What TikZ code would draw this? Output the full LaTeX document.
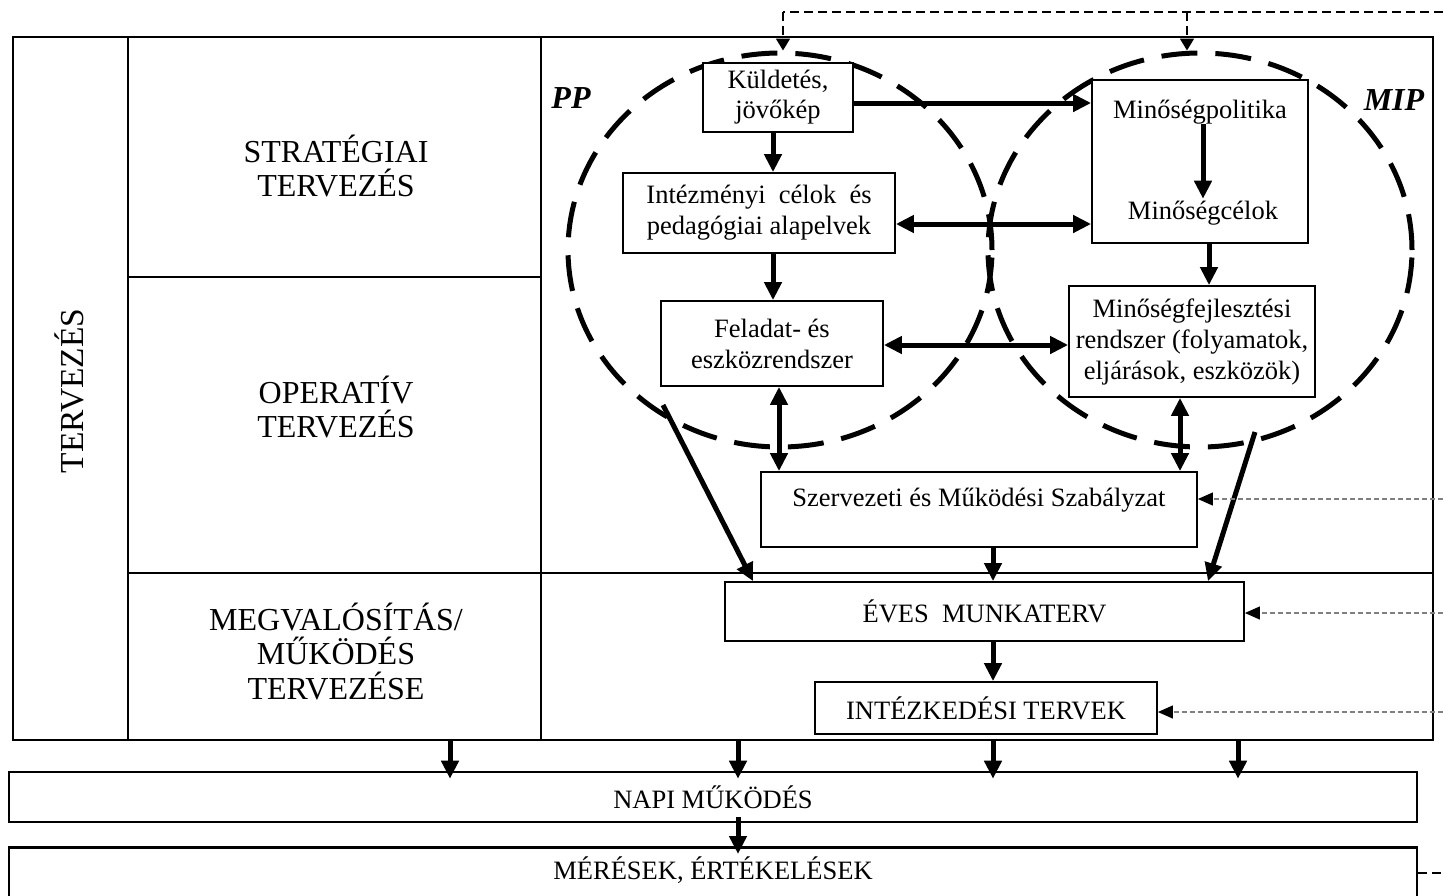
\documentclass[tikz,border=0pt]{standalone}
\usepackage{fontspec}
\setmainfont{Liberation Serif}
\usetikzlibrary{arrows.meta,shapes.geometric}
\newcommand\boxfnt{\fontsize{26.5}{31}\selectfont}
\newcommand\lblfnt{\fontsize{32}{34.5}\selectfont}
\begin{document}
\begin{tikzpicture}[x=1pt,y=-1pt,
  box/.style={draw,line width=1.8pt,fill=white,inner sep=0pt,align=center,font=\boxfnt},
  wide/.style={draw,line width=2.6pt,fill=white,inner sep=0pt,align=center,font=\boxfnt},
  txt/.style={inner sep=0pt,align=center,font=\boxfnt},
  lbl/.style={inner sep=0pt,align=center,font=\lblfnt},
  ell/.style={ellipse,draw,line width=5pt,dash pattern=on 36pt off 18pt,inner sep=0pt,
    minimum width=424pt,minimum height=394pt},
  arr/.style={line width=5pt,-{Triangle[length=18pt,width=17pt]}},
  darr/.style={line width=5pt,{Triangle[length=18pt,width=17pt]}-{Triangle[length=18pt,width=17pt]}},
  fbline/.style={line width=1.8pt,dash pattern=on 9pt off 5pt},
  fbarr/.style={fbline,-{Triangle[length=12pt,width=14pt]}},
  grarr/.style={draw=gray,line width=1.2pt,dash pattern=on 5pt off 3pt,
    -{Triangle[length=15pt,width=13pt,color=black,fill=black]}},
  frame/.style={line width=2.8pt},
  divider/.style={line width=2.2pt}]
\useasboundingbox (0,0) rectangle (1443,895);

% table frame
\draw[frame] (13,37) rectangle (1433,740);
\draw[divider] (128,37) -- (128,740);
\draw[divider] (541,37) -- (541,740);
\draw[divider] (128,277) -- (541,277);
\draw[divider] (128,573) -- (1433,573);
\node[lbl,rotate=90,font=\fontsize{33.5}{36}\selectfont] (tervezes) at (69,391) {TERVEZÉS};
\node[lbl] (strat) at (336,166) {STRATÉGIAI\\TERVEZÉS};
\node[lbl] (oper) at (336,407) {OPERATÍV\\TERVEZÉS};
\node[lbl] (megv) at (336,651) {MEGVALÓSÍTÁS/\\MŰKÖDÉS\\TERVEZÉSE};

% ellipses
\node[ell] (pp) at (780,250) {};
\node[ell] (mip) at (1200,250) {};
\node[inner sep=0pt,font=\fontsize{32}{36}\selectfont\bfseries\itshape] (pplbl) at (571,98) {PP};
\node[inner sep=0pt,font=\fontsize{32}{36}\selectfont\bfseries\itshape] (miplbl) at (1394,100) {MIP};

% boxes
\node[box,minimum width=150pt,minimum height=69pt] (kuld) at (778,97.5) {Küldetés,\\[-1pt]jövőkép};
\node[box,minimum width=272pt,minimum height=80pt] (inte) at (759,213) {Intézményi~~célok~~és\\pedagógiai alapelvek};
\node[box,minimum width=222pt,minimum height=85pt] (fela) at (772,343.5) {Feladat- és\\eszközrendszer};
\node[box,minimum width=216pt,minimum height=163pt] (minbox) at (1200,161.5) {};
\node[txt] (mpol) at (1200,112) {Minőségpolitika};
\node[txt] (mcel) at (1203,213) {Minőségcélok};
\node[box,minimum width=246pt,minimum height=111pt] (mfej) at (1192,341.5) {Minőségfejlesztési\\rendszer (folyamatok,\\eljárások, eszközök)};
\node[box,minimum width=436pt,minimum height=75pt] (szmsz) at (979,509.5) {};
\node[txt] (szmsztxt) at (979,500) {Szervezeti és Működési Szabályzat};
\node[box,minimum width=519pt,minimum height=59pt] (eves) at (984.5,611.5) {ÉVES~~MUNKATERV};
\node[box,minimum width=342pt,minimum height=52pt] (intz) at (986,708) {INTÉZKEDÉSI TERVEK};
\node[wide,minimum width=1408pt,minimum height=50pt] (napi) at (713,797) {NAPI MŰKÖDÉS};
\node[wide,minimum width=1408pt,minimum height=62pt,anchor=north] (meres) at (713,846) {};
\node[txt] (merestxt) at (713,870) {MÉRÉSEK, ÉRTÉKELÉSEK};

% arrows inside
\draw[arr] (kuld.south -| 773,0) -- (inte.north -| 773,0);
\draw[arr] (kuld.east |- 0,103) -- (minbox.west |- 0,103);
\draw[arr] (mpol.south -| 1203,0) -- ([yshift=2pt]mcel.north -| 1203,0);
\draw[darr] (inte.east |- 0,224) -- (minbox.west |- 0,224);
\draw[arr] (minbox.south -| 1209,0) -- (mfej.north -| 1209,0);
\draw[arr] (inte.south -| 773,0) -- (fela.north -| 773,0);
\draw[darr] (fela.east |- 0,345) -- (mfej.west |- 0,345);
\draw[darr] (fela.south -| 779,0) -- (szmsz.north -| 779,0);
\draw[darr] (mfej.south -| 1180,0) -- (szmsz.north -| 1180,0);
\draw[arr] (szmsz.south -| 993,0) -- (eves.north -| 993,0);
\coordinate (dl) at (663,405);
\coordinate (dr) at (1255,432);
\draw[arr] (dl) -- (eves.north -| 753,0);
\draw[arr] (dr) -- (eves.north -| 1208,0);
\draw[arr] (eves.south -| 993,0) -- (intz.north -| 993,0);

% gray dashed inputs from right
\coordinate (g1) at (1443,499);
\coordinate (g2) at (1443,613);
\coordinate (g3) at (1443,712);
\draw[grarr] (g1) -- (szmsz.east |- g1);
\draw[grarr] (g2) -- (eves.east |- g2);
\draw[grarr] (g3) -- (intz.east |- g3);

% top feedback
\coordinate (fbr) at (1443,12);
\coordinate (fbl) at (783,12);
\coordinate (fbm) at (1187,12);
\draw[fbline] (fbr) -- (fbl);
\draw[fbarr] (fbl) -- (pp.north -| fbl);
\draw[fbarr] (fbm) -- (mip.north -| fbm);

% bottom arrows
\foreach \xx/\nm in {450/a,738/b,993/c,1238/d}{
  \coordinate (fb\nm) at (\xx,740);
  \draw[arr,shorten >=-8pt] (fb\nm) -- (napi.north -| fb\nm);
}
\draw[arr,shorten >=-8pt] ([yshift=6pt]napi.south -| 738,0) -- (meres.north -| 738,0);
\coordinate (mr) at (1443,873);
\draw[fbline] (meres.east |- mr) -- (mr);
\end{tikzpicture}
\end{document}
